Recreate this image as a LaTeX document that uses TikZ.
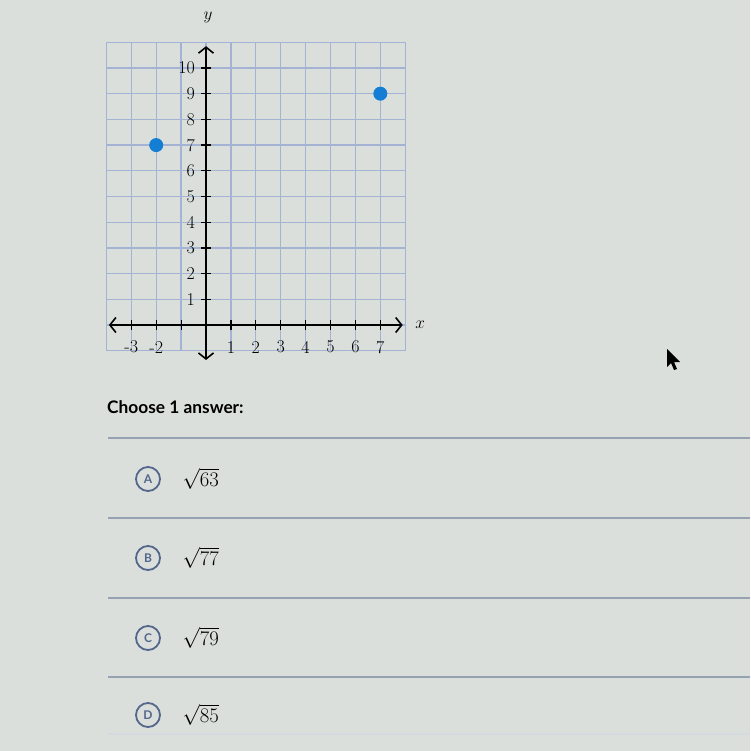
\documentclass[tikz,border=0pt]{standalone}
\usepackage{fontspec}
\newfontfamily\latofont{Lato}
\usetikzlibrary{arrows.meta}

\definecolor{paper}{RGB}{218,223,220}
\definecolor{gridblue}{RGB}{164,178,212}
\definecolor{dotblue}{RGB}{20,126,212}
\definecolor{ringblue}{RGB}{84,102,140}
\definecolor{rulegray}{RGB}{150,162,178}

\tikzset{
  gridline/.style={gridblue, line width=1.3pt},
  axis/.style={line width=1.6pt, {Straight Barb[length=6pt,width=15pt]}-{Straight Barb[length=6pt,width=15pt]}},
  tick/.style={line width=1.2pt},
  ticklabel/.style={font=\fontsize{18}{18}\selectfont, inner sep=1pt},
  dot/.style={circle, fill=dotblue, minimum size=14pt, inner sep=0pt},
  choice/.style={circle, draw=ringblue, line width=1.8pt, minimum size=24pt, inner sep=0pt,
    text=ringblue, font=\latofont\bfseries\fontsize{12}{12}\selectfont},
  answer/.style={anchor=west, font=\fontsize{21}{21}\selectfont},
  sep/.style={rulegray, line width=1.2pt}
}

\begin{document}
\begin{tikzpicture}[x=1pt, y=-1pt]
    \useasboundingbox[fill=paper] (0,0) rectangle (750,751);

    % Coordinate plane
    \begin{scope}[shift={(206,325)}, x=24.9pt, y=25.7pt]
        \foreach \i in {-4,...,8}
            \draw[gridline] (\i,-1) -- (\i,11);
        \foreach \j in {-1,...,11}
            \draw[gridline] (-4,\j) -- (8,\j);

        % Axes
        \coordinate (xleft) at (-3.9,0);
        \coordinate (xright) at (7.9,0);
        \coordinate (ybottom) at (0,-1.36);
        \coordinate (ytop) at (0,10.85);
        \draw[axis] (xleft) -- (xright);
        \draw[axis] (ybottom) -- (ytop);
        \node[font=\fontsize{18}{18}\selectfont] (xname) at (8.6,0) {$x$};
        \node[font=\fontsize{18}{18}\selectfont] (yname) at (0.08,11.95) {$y$};

        % Ticks
        \foreach \i in {-3,-2,-1,1,2,...,7}
            \draw[tick] (\i,-0.2) -- (\i,0.2);
        \foreach \j in {1,...,10}
            \draw[tick] (-0.2,\j) -- (0.2,\j);

        % Tick labels
        \foreach \i in {-3,-2,1,2,...,7}
            \node[ticklabel] (xl\i) at (\i,-0.86) {\i};
        \foreach \j in {1,...,10}
            \node[ticklabel, anchor=east] (yl\j) at (-0.4,\j) {\j};

        % Points
        \node[dot] (pa) at (-2,7) {};
        \node[dot] (pb) at (7,9) {};
    \end{scope}

    % Question
    \node[anchor=base west, inner sep=0pt, font=\latofont\bfseries\fontsize{17.3}{17.3}\selectfont] (prompt) at (107,413) {Choose 1 answer:};

    % Separators
    \draw[sep] (108,438) -- (750,438);
    \draw[sep] (108,518) -- (750,518);
    \draw[sep] (108,598) -- (750,598);
    \draw[sep] (108,677) -- (750,677);
    \draw[sep, rulegray!40] (108,734) -- (750,734);

    % Answers
    \node[choice] (ca) at (148,479) {A};
    \node[answer] (aa) at (179,479) {$\sqrt{63}$};
    \node[choice] (cb) at (148,558) {B};
    \node[answer] (ab) at (179,558) {$\sqrt{77}$};
    \node[choice] (cc) at (148,638) {C};
    \node[answer] (ac) at (179,638) {$\sqrt{79}$};
    \node[choice] (cd) at (148,715) {D};
    \node[answer] (ad) at (179,715) {$\sqrt{85}$};

    % Pointer
    \fill (667,349) -- (667,367) -- (671,363) -- (674,370) -- (677,369) -- (674,362) -- (680,362) -- cycle;
\end{tikzpicture}
\end{document}
